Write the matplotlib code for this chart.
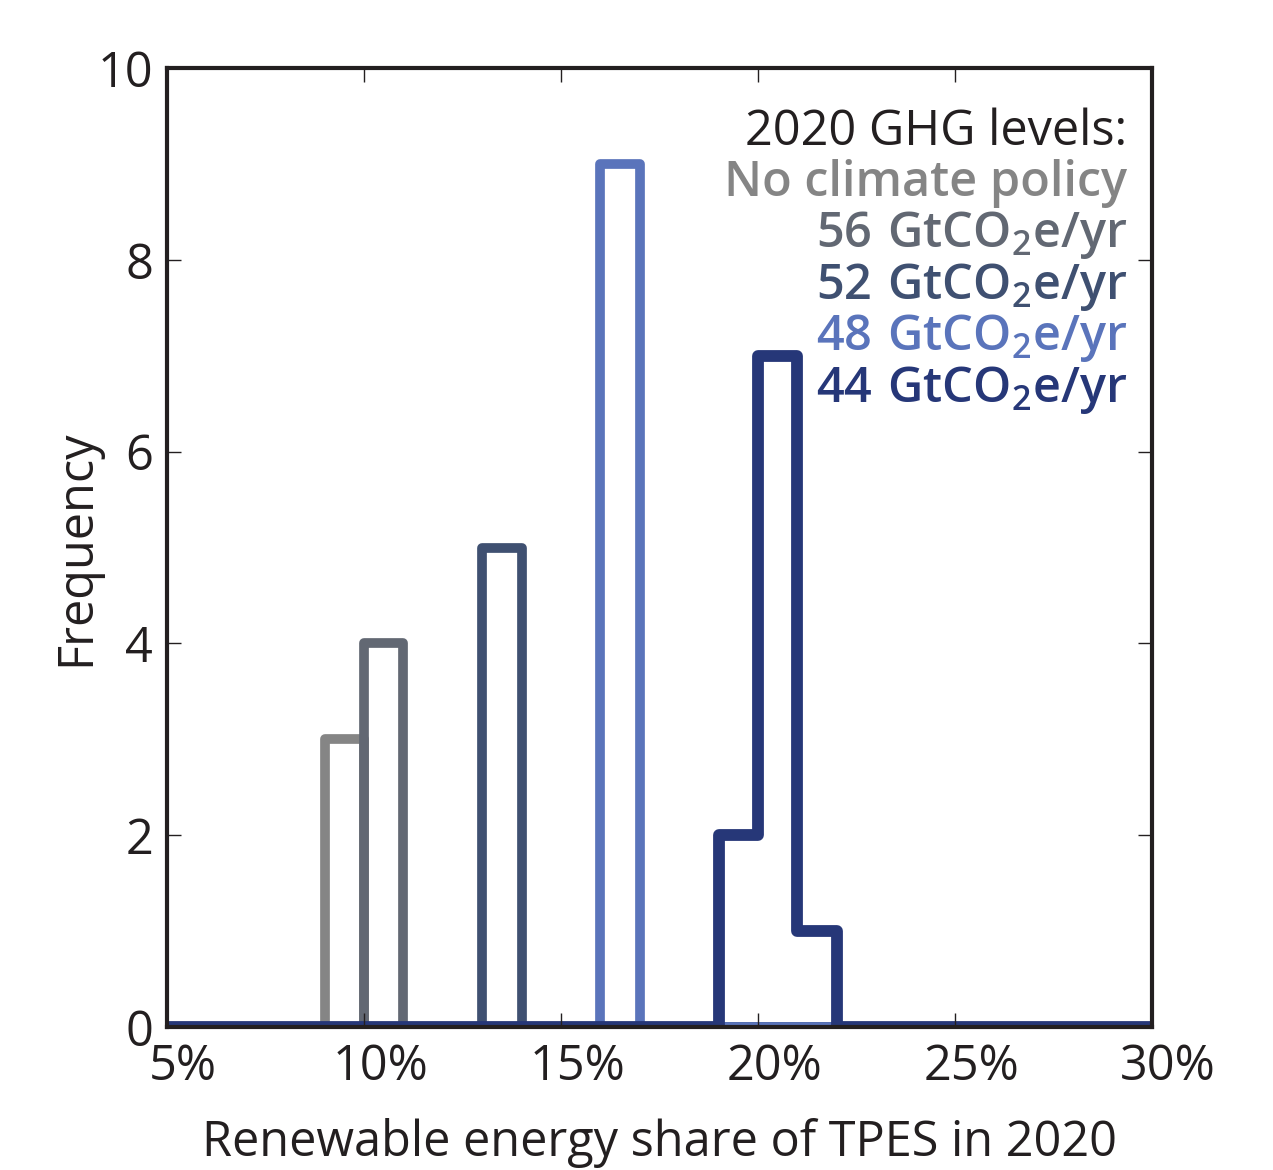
import numpy as np
import matplotlib
matplotlib.use("Agg")
import matplotlib.pyplot as plt
import matplotlib.transforms as mtransforms

plt.rcParams['font.family'] = ['Open Sans', 'DejaVu Sans']
plt.rcParams['mathtext.fontset'] = 'custom'
plt.rcParams['mathtext.rm'] = 'Open Sans'
plt.rcParams['mathtext.bf'] = 'Open Sans:semibold'

# histogram bins: 1% wide from 5% to 30%
bin_edges = np.arange(5, 31, 1)

# lower bin edge (%) and count for each scenario
labels = ['No climate policy', '56', '52', '48', '44']
no_policy_bins, no_policy_counts = [9], [3]
ghg56_bins, ghg56_counts = [10], [4]
ghg52_bins, ghg52_counts = [13], [5]
ghg48_bins, ghg48_counts = [16], [9]
ghg44_bins, ghg44_counts = [19, 20, 21], [2, 7, 1]

colors = ['#858585', '#626873', '#3f5071', '#5a74bb', '#263778']
widths = [7, 7, 7, 7, 8.5]

series = [(no_policy_bins, no_policy_counts), (ghg56_bins, ghg56_counts),
          (ghg52_bins, ghg52_counts), (ghg48_bins, ghg48_counts),
          (ghg44_bins, ghg44_counts)]

fig = plt.figure(figsize=(12.73, 11.70), dpi=100)
ax = fig.add_axes([0.1312, 0.1222, 0.905 - 0.1312, 0.9419 - 0.1222])

for (bins, counts), c, lw in zip(series, colors, widths):
    h = np.zeros(len(bin_edges) - 1)
    for b, n in zip(bins, counts):
        h[b - 5] = n
    ax.stairs(h, bin_edges, color=c, linewidth=lw, joinstyle='round')

ax.set_xlim(5, 30)
ax.set_ylim(0, 10)
ax.set_xticks([5, 10, 15, 20, 25, 30])
ax.set_xticklabels(['5%', '10%', '15%', '20%', '25%', '30%'])
ax.set_yticks([0, 2, 4, 6, 8, 10])

for s in ax.spines.values():
    s.set_linewidth(3)
    s.set_color('#231f20')
    s.set_zorder(5)
ax.tick_params(direction='in', length=10, width=1, top=True, right=True,
               labelsize=35, colors='#231f20', pad=10)
ax.tick_params(axis='x', pad=11)

# labels sit a little right of the ticks in the original
offset = mtransforms.ScaledTranslation(16 / 100, 0, fig.dpi_scale_trans)
for lab in ax.get_xticklabels():
    lab.set_transform(lab.get_transform() + offset)

ax.set_xlabel('Renewable energy share of TPES in 2020', fontsize=35,
              color='#231f20', labelpad=19)
ax.set_ylabel('Frequency', fontsize=35, color='#231f20', labelpad=-3)

ax.text(0.975, 0.9335, '2020 GHG levels:', transform=ax.transAxes, ha='right',
        va='center', fontsize=35, color='#231f20')
ax.text(0.975, 0.9335 - 0.0538, 'No climate policy', transform=ax.transAxes,
        ha='right', va='center', fontsize=35, color=colors[0],
        fontweight='semibold')
y = 0.9335 - 2 * 0.0538
for lab, c in zip(labels[1:], colors[1:]):
    ax.text(0.975, y, r'$\mathbf{%s\ GtCO_2e/yr}$' % lab, transform=ax.transAxes,
            ha='right', va='center', fontsize=35, color=c)
    y -= 0.0538

fig.savefig('out.png', dpi=100)
